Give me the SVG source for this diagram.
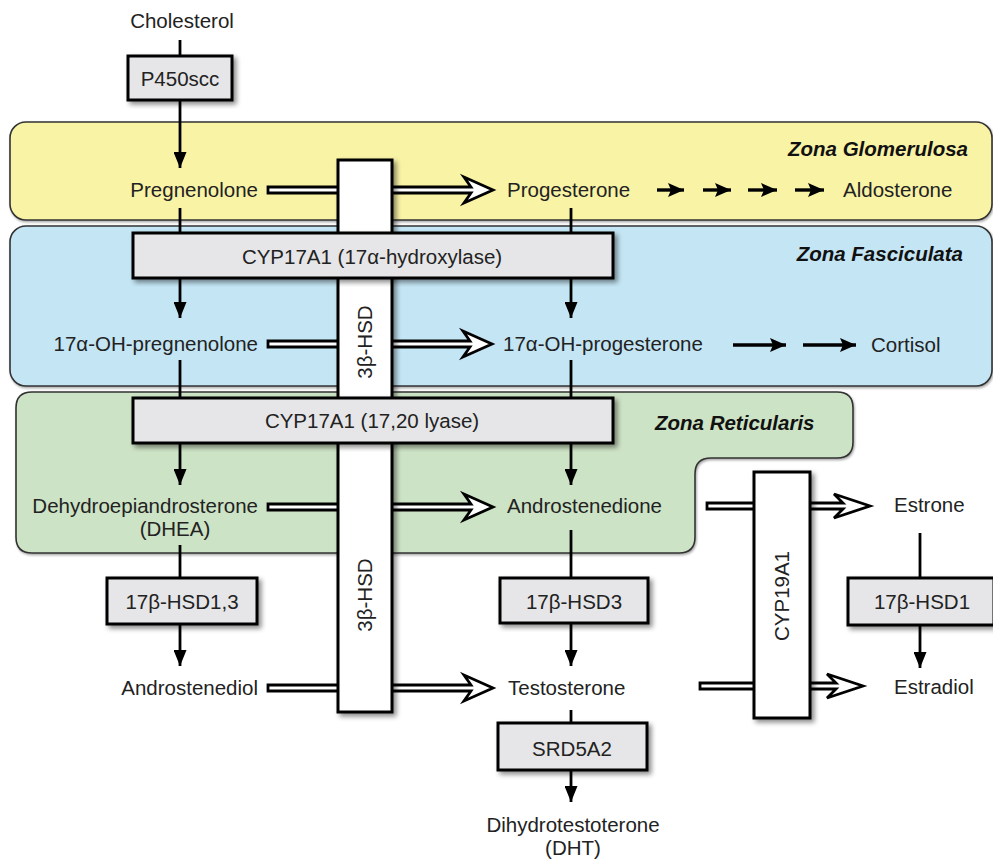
<svg xmlns="http://www.w3.org/2000/svg" width="993" height="861" viewBox="0 0 993 861">
<defs>
<style>
text{font-family:"Liberation Sans",Arial,sans-serif;font-size:20.5px;fill:#222}
.zl{font-weight:bold;font-style:italic;font-size:20.5px;fill:#111}
.zone{stroke:#333;stroke-width:1.6}
.enz{fill:#e6e6e8;stroke:#000;stroke-width:3;filter:url(#sh)}
.wbox{fill:#fff;stroke:#000;stroke-width:3;filter:url(#sh)}
.ln{stroke:#000;stroke-width:2.8;fill:none}
.ar{stroke:#000;stroke-width:2.8;fill:none;marker-end:url(#ah)}
.sa{stroke:#000;stroke-width:3.4;fill:none;marker-end:url(#ah2)}
.ha{fill:#fff;stroke:#000;stroke-width:2.8;stroke-linejoin:miter}
.m{text-anchor:middle}
.e{text-anchor:end}
</style>
<filter id="sh" x="-20%" y="-20%" width="140%" height="140%">
<feDropShadow dx="3" dy="3" stdDeviation="2.5" flood-color="#000" flood-opacity="0.45"/>
</filter>
<filter id="zs" x="-5%" y="-5%" width="110%" height="110%">
<feDropShadow dx="1" dy="1.5" stdDeviation="1" flood-color="#000" flood-opacity="0.35"/>
</filter>
<marker id="ah" markerUnits="userSpaceOnUse" markerWidth="16" markerHeight="13" refX="16" refY="6.5" orient="auto">
<path d="M0,0 L16,6.5 L0,13 z" fill="#000"/>
</marker>
<marker id="ah2" markerUnits="userSpaceOnUse" markerWidth="16" markerHeight="14" refX="16" refY="7" orient="auto">
<path d="M0,0 L16,7 L0,14 L3,7 z" fill="#000"/>
</marker>
</defs>

<g id="zones">
<rect id="zona-glomerulosa" class="zone" x="10" y="122" width="982" height="98" rx="16" fill="#f9f3a6" filter="url(#zs)"/>
<rect id="zona-fasciculata" class="zone" x="10" y="226" width="982" height="160" rx="16" fill="#c4e5f4" filter="url(#zs)"/>
<path id="zona-reticularis" class="zone" fill="#cde3c5" filter="url(#zs)" d="M32,392 H837 Q853,392 853,408 V442 Q853,458 837,458 H711 Q695,458 695,474 V537 Q695,553 679,553 H32 Q16,553 16,537 V408 Q16,392 32,392 Z"/>
</g>

<g id="connectors">
<line class="ln" x1="180" y1="40" x2="180" y2="57"/>
<line class="ar" x1="180" y1="100" x2="180" y2="168"/>
<line class="ln" x1="180" y1="208" x2="180" y2="234"/>
<line class="ar" x1="180" y1="277" x2="180" y2="318"/>
<line class="ln" x1="180" y1="360" x2="180" y2="399"/>
<line class="ar" x1="180" y1="442" x2="180" y2="485"/>
<line class="ln" x1="180" y1="545" x2="180" y2="579"/>
<line class="ar" x1="180" y1="623" x2="180" y2="666"/>
<line class="ln" x1="571" y1="208" x2="571" y2="234"/>
<line class="ar" x1="571" y1="277" x2="571" y2="318"/>
<line class="ln" x1="571" y1="360" x2="571" y2="399"/>
<line class="ar" x1="571" y1="442" x2="571" y2="485"/>
<line class="ln" x1="571" y1="530" x2="571" y2="579"/>
<line class="ar" x1="571" y1="622" x2="571" y2="666"/>
<line class="ln" x1="571" y1="710" x2="571" y2="724"/>
<line class="ar" x1="571" y1="769" x2="571" y2="802"/>
<line class="ln" x1="920" y1="533" x2="920" y2="579"/>
<line class="ar" x1="920" y1="624" x2="920" y2="668"/>
<line class="sa" x1="657" y1="190" x2="684" y2="190"/>
<line class="sa" x1="703" y1="190" x2="731" y2="190"/>
<line class="sa" x1="748" y1="190" x2="777" y2="190"/>
<line class="sa" x1="795" y1="190" x2="824" y2="190"/>
<line class="sa" x1="733" y1="345" x2="786" y2="345"/>
<line class="sa" x1="803" y1="345" x2="856" y2="345"/>
<polygon class="ha" points="268,187 471,187 464,177 493,190 464,203 471,193 268,193"/>
<polygon class="ha" points="268,341 470,341 463,331 492,344 463,357 470,347 268,347"/>
<polygon class="ha" points="268,504 471,504 464,494 493,507 464,520 471,510 268,510"/>
<polygon class="ha" points="268,685 471,685 464,675 493,688 464,701 471,691 268,691"/>
<polygon class="ha" points="707,503 843,503 834,494 870,506 834,518 843,509 707,509"/>
<polygon class="ha" points="700,683 836,683 827,674 863,686 827,698 836,689 700,689"/>
</g>

<g id="hsd3b">
<rect class="wbox" x="338" y="160" width="54" height="552"/>
<text transform="translate(372,342) rotate(-90)" class="m">3β-HSD</text>
<text transform="translate(372,595) rotate(-90)" class="m">3β-HSD</text>
</g>

<g id="cyp19a1">
<rect class="wbox" x="754" y="472" width="56" height="246"/>
<text transform="translate(789,596) rotate(-90)" class="m">CYP19A1</text>
</g>

<g id="p450scc"><rect class="enz" x="128" y="56" width="104" height="44"/><text class="m" x="180" y="86">P450scc</text></g>
<g id="cyp17-hydroxylase"><rect class="enz" x="133" y="233" width="480" height="45"/><text class="m" x="372" y="264">CYP17A1 (17α-hydroxylase)</text></g>
<g id="cyp17-lyase"><rect class="enz" x="133" y="398" width="480" height="45"/><text class="m" x="372" y="428">CYP17A1 (17,20 lyase)</text></g>
<g id="hsd17b13"><rect class="enz" x="107" y="578" width="150" height="46"/><text class="m" x="182" y="609">17β-HSD1,3</text></g>
<g id="hsd17b3"><rect class="enz" x="500" y="578" width="148" height="45"/><text class="m" x="574" y="609">17β-HSD3</text></g>
<g id="hsd17b1"><rect class="enz" x="848" y="578" width="146" height="47"/><text class="m" x="922" y="609">17β-HSD1</text></g>
<g id="srd5a2"><rect class="enz" x="498" y="723" width="149" height="47"/><text class="m" x="572" y="756">SRD5A2</text></g>

<g id="labels">
<text class="zl e" x="968" y="156">Zona Glomerulosa</text>
<text class="zl e" x="963" y="261">Zona Fasciculata</text>
<text class="zl" x="655" y="430">Zona Reticularis</text>
</g>

<g id="cholesterol"><text class="m" x="182" y="28">Cholesterol</text></g>
<g id="pregnenolone"><text class="e" x="258" y="197">Pregnenolone</text></g>
<g id="progesterone"><text x="507" y="197">Progesterone</text></g>
<g id="aldosterone"><text x="843" y="197">Aldosterone</text></g>
<g id="oh-pregnenolone"><text class="e" x="258" y="351">17α-OH-pregnenolone</text></g>
<g id="oh-progesterone"><text x="503" y="351">17α-OH-progesterone</text></g>
<g id="cortisol"><text x="871" y="352">Cortisol</text></g>
<g id="dhea"><text class="e" x="258" y="513">Dehydroepiandrosterone</text><text class="m" x="175" y="536">(DHEA)</text></g>
<g id="androstenedione"><text x="507" y="513">Androstenedione</text></g>
<g id="estrone"><text x="894" y="512">Estrone</text></g>
<g id="androstenediol"><text class="e" x="258" y="695">Androstenediol</text></g>
<g id="testosterone"><text x="508" y="695">Testosterone</text></g>
<g id="estradiol"><text x="894" y="694">Estradiol</text></g>
<g id="dht"><text class="m" x="573" y="832">Dihydrotestoterone</text><text class="m" x="573" y="855">(DHT)</text></g>
</svg>
